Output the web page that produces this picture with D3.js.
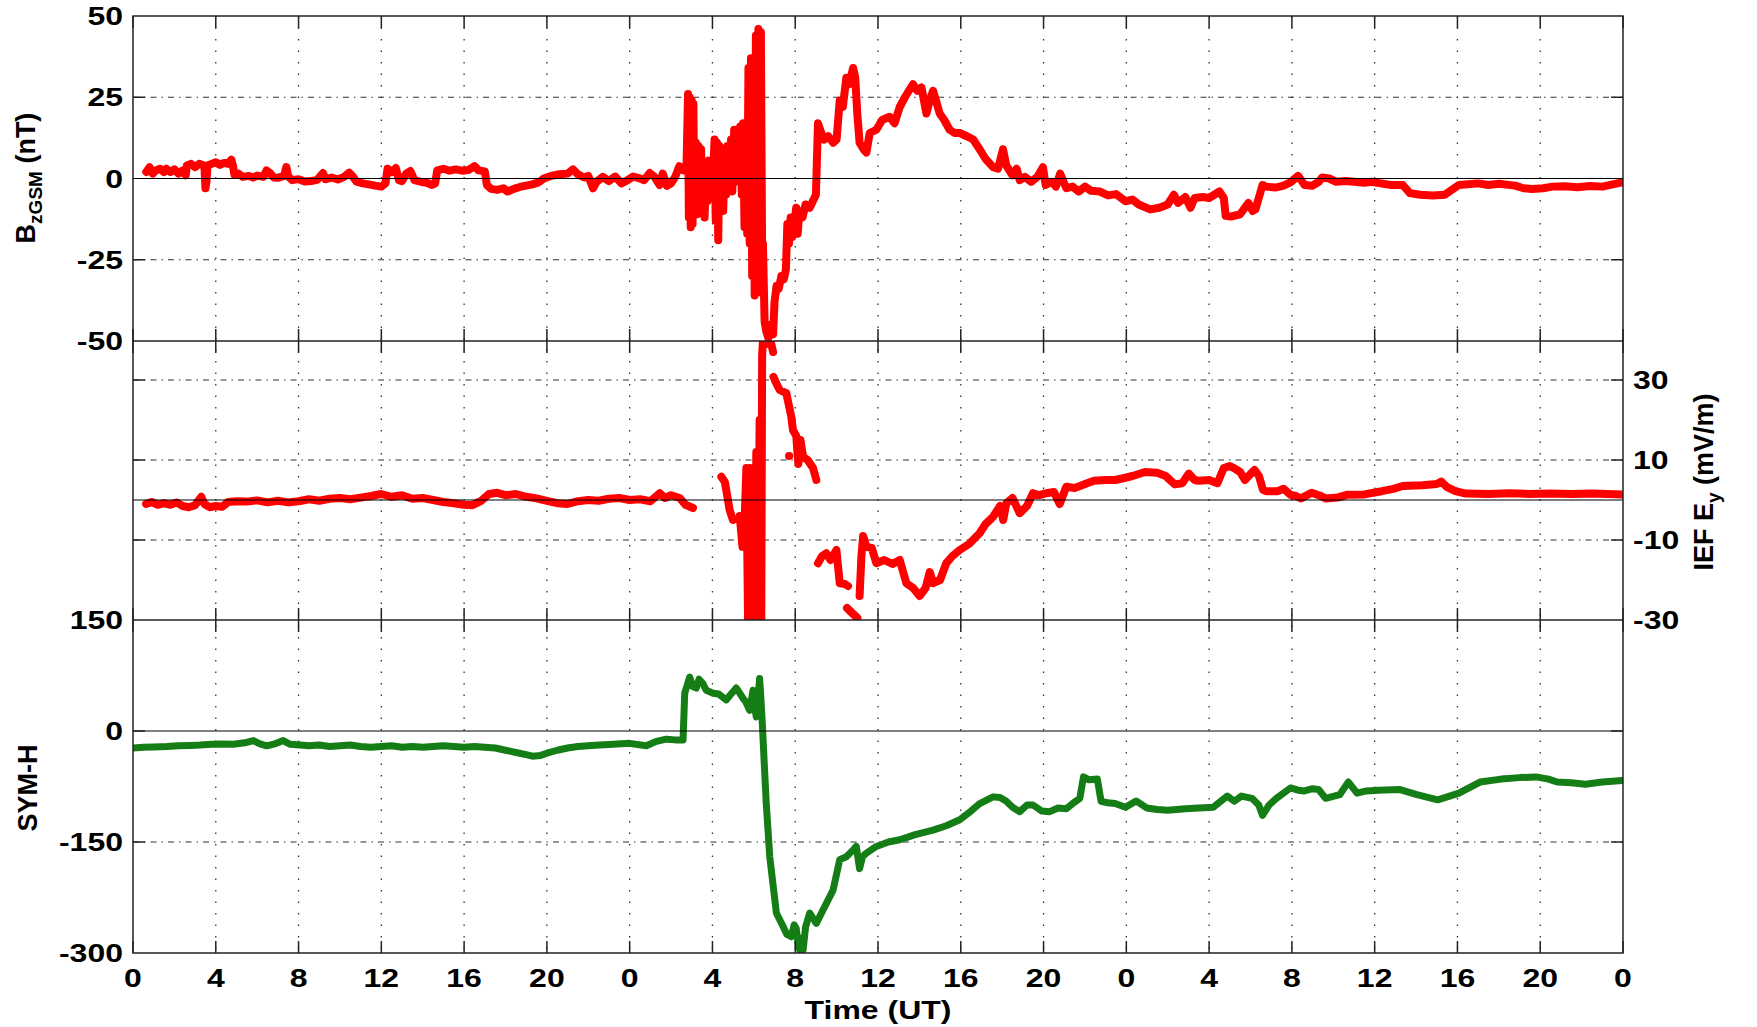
<!DOCTYPE html>
<html>
<head>
<meta charset="utf-8">
<script src="https://cdn.jsdelivr.net/npm/d3@7"></script>
<style>
  body { margin: 0; background: #fff; }
  text { font-family: "Liberation Sans", Arial, sans-serif; font-weight: bold; fill: #000; }
</style>
</head>
<body>
<svg id="grafico"></svg>
<script>
// dados: [hora desde o inicio, valor]
const bzSeries = [
  [0.64,2],[0.8,3.5],[0.95,1.5],[1.1,2.5],[1.3,3],[1.5,2],[1.61,3],[1.8,2],[2.0,2.8],[2.2,1.5],[2.4,2.5],[2.55,1],
  [2.6,4],[2.8,4.5],[3.0,3.5],[3.2,4.5],[3.45,4],[3.5,-3],[3.55,-1],[3.6,4],[3.8,4.5],[4.0,5],[4.2,4.2],[4.4,4.8],
  [4.6,4.5],[4.75,5.8],[4.83,4],[4.9,1.2],[5.1,1.5],[5.3,0.5],[5.6,0.8],[5.8,0.3],[6.0,0.9],[6.3,0.5],[6.45,2.5],
  [6.6,1.8],[6.8,0.3],[7.0,0.2],[7.3,0.8],[7.41,3.5],[7.5,0.6],[7.7,-0.5],[8.0,-0.2],[8.3,-0.9],[8.6,-0.8],[8.9,-0.4],
  [9.18,1.7],[9.3,-0.2],[9.6,0.3],[9.9,-0.3],[10.2,0.5],[10.45,1.8],[10.6,0.8],[10.8,-1.0],[11.1,-1.5],[11.4,-1.8],
  [11.7,-2.2],[12.0,-2.5],[12.2,-1.5],[12.3,3],[12.5,2],[12.7,3.2],[12.85,-0.5],[13.0,-0.8],[13.2,1.5],[13.4,2.3],
  [13.6,-0.5],[13.9,-1],[14.2,-1.3],[14.45,-2],[14.6,-1.5],[14.7,2.5],[15.0,3],[15.3,2.4],[15.6,2.8],[15.9,2.4],
  [16.2,2.6],[16.5,3.8],[16.7,2.5],[17.0,2.2],[17.1,-2],[17.3,-3.2],[17.6,-3.5],[17.9,-3],[18.1,-4],[18.4,-3.2],
  [18.7,-2.6],[19.0,-2.2],[19.3,-1.8],[19.6,-1.2],[19.85,0],[20.2,0.8],[20.6,1.3],[21.0,1.5],[21.26,2.8],[21.5,1.3],
  [21.8,0.3],[22.0,0.8],[22.23,-3],[22.4,-1],[22.7,0.5],[23.0,-0.8],[23.3,0.6],[23.6,-1.5],[23.9,-0.5],[24.16,0.6],
  [24.4,0.2],[24.7,-0.5],[24.97,1.7],[25.2,0.5],[25.45,-2],[25.6,1.5],[25.8,-2.3],[26.0,-1.5],[26.2,0.5],[26.4,3.8],
  [26.6,2.5],[26.75,4.5],[26.82,26],[26.86,-12],[26.9,25],[26.95,-15],[27.0,24],[27.04,-14],[27.08,23],[27.12,-8],
  [27.2,11],[27.26,-11],[27.32,10],[27.38,-5],[27.45,9],[27.5,-9],[27.56,5],[27.62,-12],[27.7,4],[27.76,-7],
  [27.82,5.5],[27.88,-2],[27.95,3],[28.0,-6],[28.1,12],[28.16,-13],[28.22,11],[28.28,-19],[28.34,10],[28.4,-8],
  [28.46,8],[28.52,-10],[28.6,9],[28.66,-5],[28.72,10],[28.8,-2],[28.9,12],[28.96,-4],[29.05,15],[29.1,-1],
  [29.18,15],[29.26,0],[29.34,16],[29.42,-5],[29.48,17],[29.55,-15],[29.62,14],[29.68,-17],[29.74,34],[29.8,-20],
  [29.86,37],[29.92,-30],[29.98,37],[30.04,-36],[30.1,44],[30.16,-30],[30.22,46],[30.28,-35],[30.34,45],[30.4,-22],
  [30.44,-20],[30.52,-44],[30.6,-47],[30.7,-49],[30.8,-45],[30.93,-48],[31.0,-38],[31.1,-33],[31.2,-34],[31.33,-30],
  [31.45,-31],[31.55,-28],[31.62,-14],[31.7,-20],[31.78,-12],[31.85,-18],[31.95,-14],[32.05,-9],[32.12,-17],[32.2,-10],
  [32.35,-12],[32.5,-8],[32.7,-9],[32.85,-7],[33.0,-5],[33.1,17],[33.26,14],[33.4,12],[33.6,13],[33.83,11],[34.0,12],
  [34.15,24],[34.3,22],[34.47,31],[34.6,29],[34.8,34],[34.9,31],[35.0,20],[35.11,11],[35.3,9],[35.44,8],[35.6,14],
  [35.92,15],[36.2,18],[36.56,19],[36.8,17],[37.05,22],[37.3,25],[37.69,29],[37.9,27],[38.1,28],[38.34,20],[38.5,24],
  [38.66,27],[38.8,24],[38.98,20],[39.2,18],[39.46,15],[39.7,14],[39.95,14],[40.3,13],[40.6,12],[40.91,9],[41.2,6],
  [41.56,3.5],[41.8,3],[42.04,9],[42.2,4],[42.5,1],[42.7,3],[42.85,-0.5],[43.1,0.5],[43.4,-1],[43.7,0.5],[43.97,3.5],
  [44.1,-2],[44.4,-1],[44.6,-2.5],[44.8,1.5],[45.1,-3],[45.4,-2.5],[45.7,-4],[46.0,-2.5],[46.3,-3.8],[46.71,-4],
  [47.12,-5.2],[47.5,-4.8],[47.96,-7],[48.3,-6.5],[48.6,-8],[49.15,-9.5],[49.6,-9],[50.0,-8],[50.3,-5],[50.5,-7.5],
  [50.85,-5.7],[51.1,-9],[51.3,-6],[51.69,-5.7],[52.0,-6],[52.5,-4],[52.71,-6],[52.8,-11.5],[53.05,-11.7],[53.5,-11],
  [53.9,-7.5],[54.1,-10],[54.24,-9.5],[54.4,-6],[54.58,-2],[54.75,-2.5],[55.2,-2.8],[55.6,-2.2],[55.93,-1.2],[56.3,0.8],
  [56.45,-0.5],[56.61,-2],[57.0,-2.2],[57.3,-1],[57.46,0.3],[57.8,0],[58.14,-1],[58.6,-0.8],[59.0,-1],[59.5,-1.3],
  [59.83,-1],[60.3,-1.5],[60.8,-2],[61.36,-2],[61.7,-4.5],[62.2,-5],[62.8,-5.2],[63.39,-5],[63.7,-3.6],[64.07,-2],
  [64.5,-1.8],[65.0,-1.5],[65.5,-2],[66.0,-1.6],[66.78,-2.2],[67.2,-3],[67.6,-3.2],[68.14,-3],[68.6,-2.5],[69.2,-2.4],
  [69.8,-2.7],[70.4,-2.3],[71.0,-2.5],[71.5,-1.8],[71.96,-1.2]
];

// null = falha nos dados
const eySeries = [
  [0.63,-1],[0.9,-0.5],[1.2,-1.2],[1.5,-0.8],[1.8,-1.2],[2.1,-0.6],[2.4,-1.5],[2.7,-1.8],[3.0,-1.3],[3.3,0.8],
  [3.45,-1],[3.7,-1.8],[4.0,-1.5],[4.3,-1.7],[4.6,-0.5],[5.0,-0.3],[5.5,-0.4],[6.0,-0.1],[6.5,-0.6],[7.0,-0.2],
  [7.5,-0.6],[8.0,-0.3],[8.5,0.2],[9.0,-0.2],[9.5,0.3],[10.0,0.5],[10.5,0.2],[11.0,0.6],[11.5,1.0],[12.0,1.5],
  [12.5,0.8],[13.0,1.2],[13.5,0.3],[14.0,0.5],[14.5,0],[15.0,-0.5],[15.5,-0.8],[16.0,-1.2],[16.4,-1.3],[16.8,-0.3],
  [17.2,1.5],[17.6,1.8],[18.0,1.2],[18.5,1.5],[19.0,0.8],[19.5,0.4],[20.0,-0.2],[20.5,-0.8],[21.0,-1],[21.5,-0.3],
  [22.0,0],[22.5,-0.2],[23.0,0.3],[23.5,0.5],[24.0,0],[24.5,0.2],[25.0,-0.3],[25.45,1.7],[25.7,0.5],[26.0,1.2],
  [26.42,0.5],[26.7,-1.2],[27.06,-2],[27.1,null],
  [28.43,5.8],[28.6,4.5],[28.75,0],[28.83,-2.5],[28.99,-5],[29.1,null],
  [29.32,-4],[29.45,-11.7],[29.55,-6],[29.64,8],[29.72,-30],[29.8,8],[29.88,-30],[29.96,8],[30.04,-30],[30.12,12],
  [30.2,-30],[30.28,20],[30.36,-30],[30.4,36],[30.44,40],[30.6,39],[30.8,40],[30.93,37],[30.94,null],
  [30.95,30.8],[31.1,29],[31.25,27.5],[31.57,26.7],[31.81,20.8],[31.89,17.5],[32.05,16],[32.15,9],[32.25,15],
  [32.38,10.8],[32.6,10],[32.86,8],[33.02,5],[33.05,null],
  [31.7,11],[31.71,11],[31.72,null],
  [33.1,-15.8],[33.3,-14],[33.5,-13.3],[33.7,-15],[33.99,-12.5],[34.15,-20.8],[34.4,-21],[34.55,-21.5],[34.56,null],
  [34.5,-27],[34.8,-28.5],[35.0,-29.5],[35.05,null],
  [35.11,-24],[35.2,-14],[35.28,-9],[35.44,-11.7],[35.7,-12],[35.92,-15.8],[36.3,-15],[36.7,-16],[37.05,-15],
  [37.37,-20.8],[37.7,-22],[38.01,-24],[38.3,-22],[38.5,-18],[38.66,-20.8],[39.0,-20],[39.3,-15.8],[39.6,-14],
  [39.95,-12.5],[40.4,-11],[40.91,-8.3],[41.2,-6],[41.56,-4.2],[41.9,-1.5],[42.05,-5],[42.2,-0.8],[42.5,0.5],
  [42.85,-3.3],[43.2,-1.5],[43.49,1.7],[43.8,1.2],[44.13,1.7],[44.5,2],[44.78,-1],[45.1,3.3],[45.5,3],[45.76,3.5],
  [46.1,4.2],[46.44,4.8],[47.0,5],[47.46,5],[47.9,5.5],[48.3,6],[48.9,7],[49.49,6.8],[49.9,6],[50.34,3.9],[50.7,4.2],
  [51.02,6.6],[51.3,5],[51.52,4.8],[52.0,5],[52.4,4.2],[52.71,8],[53.0,8.5],[53.22,7.9],[53.5,7],[53.73,5],[54.0,6.5],
  [54.2,7.5],[54.41,6],[54.6,2.6],[54.75,2.2],[55.3,2.2],[55.6,2.8],[55.93,1.3],[56.2,1],[56.44,0.4],[56.95,1.8],
  [57.3,1.2],[57.63,0.4],[58.2,0.6],[58.65,1.3],[59.5,1.4],[60.34,2.2],[60.9,2.8],[61.36,3.5],[62.3,3.7],[63.0,4],
  [63.22,4.6],[63.5,3.2],[63.9,2.2],[64.41,1.6],[65.5,1.5],[66.5,1.7],[67.5,1.5],[68.5,1.6],[69.5,1.5],[70.5,1.6],
  [71.96,1.4]
];

const symSeries = [
  [0,-23],[0.5,-22],[1.0,-21.5],[1.63,-21],[2.2,-20],[2.8,-19.5],[3.24,-19],[3.8,-18],[4.3,-17.5],[4.85,-18],
  [5.4,-16],[5.82,-13],[6.1,-17],[6.46,-20],[6.9,-17],[7.26,-13],[7.6,-18],[8.07,-19],[8.5,-20],[9.0,-19],[9.5,-21],
  [10.0,-20],[10.5,-19],[11.0,-21],[11.5,-22],[12.0,-21],[12.5,-20],[13.0,-22],[13.5,-21],[14.0,-22],[14.5,-21],
  [15.0,-20],[15.5,-21],[16.0,-22],[16.5,-21],[17.0,-22],[17.5,-23],[18.0,-26],[18.5,-29],[19.0,-32],[19.3,-34],
  [19.7,-33],[20.0,-30],[20.5,-26],[21.0,-23],[21.5,-21],[22.0,-20],[22.55,-19],[23.2,-18],[24.0,-16.7],[24.8,-20],
  [25.29,-14],[25.77,-11],[26.2,-12],[26.58,-12],[26.66,51],[26.9,73],[27.05,60],[27.22,58],[27.35,70],[27.54,64],
  [27.7,55],[28.03,51],[28.3,50],[28.67,42],[28.9,50],[29.15,58],[29.3,52],[29.48,44],[29.6,40],[29.8,28],[29.96,55],
  [30.05,30],[30.12,19],[30.2,45],[30.28,71],[30.35,40],[30.41,10],[30.52,-53],[30.6,-98],[30.77,-170],[31.09,-246],
  [31.41,-264],[31.6,-275],[31.81,-278],[31.95,-262],[32.05,-267],[32.15,-290],[32.22,-296],[32.3,-280],[32.38,-296],
  [32.5,-265],[32.7,-246],[33.02,-260],[33.34,-242],[33.83,-215],[34.15,-174],[34.47,-170],[34.79,-161],[34.95,-156],
  [35.11,-186],[35.25,-170],[35.44,-165],[35.92,-156],[36.5,-150],[37.05,-147],[37.8,-140],[38.66,-134],[39.3,-128],
  [39.95,-120],[40.5,-108],[40.91,-98],[41.56,-89],[41.9,-90],[42.2,-95],[42.5,-103],[42.85,-109],[43.2,-100],
  [43.49,-100],[43.9,-108],[44.3,-109],[44.7,-104],[45.1,-105],[45.5,-96],[45.75,-91],[45.93,-62],[46.2,-66],
  [46.6,-65],[46.78,-95],[47.1,-97],[47.46,-98],[47.96,-103],[48.47,-94.5],[48.98,-104],[49.5,-106],[50.0,-107],
  [50.85,-105],[51.5,-104],[52.2,-103],[52.88,-88],[53.22,-95],[53.56,-88],[54.07,-91],[54.4,-100],[54.58,-114],
  [54.9,-100],[55.25,-91],[55.93,-77],[56.3,-80],[56.61,-81],[57.0,-78],[57.29,-79],[57.63,-91],[58.31,-86],
  [58.73,-69],[59.15,-84],[59.6,-81],[60.17,-80],[61.19,-79],[62.04,-86],[63.05,-93],[64.07,-84],[65.09,-69],
  [66.11,-65],[67.0,-63],[67.8,-62],[68.4,-65],[68.82,-69],[69.5,-70],[70.18,-72],[71.0,-69],[71.96,-67]
];

// ticks
const timeTicks = d3.range(0, 73, 4);
const timeTickLabels = ["0","4","8","12","16","20","0","4","8","12","16","20","0","4","8","12","16","20","0"];
const bzTicks = [50, 25, 0, -25, -50];
const eyTicks = [30, 10, -10, -30];
const symTicks = [150, 0, -150, -300];

// dimensoes
const W = 1757, H = 1027;
const PAD = { left: 133, right: 1623 };
const paineis = {
  bz:  { top: 16,  bottom: 341 },
  ey:  { top: 341, bottom: 620 },
  sym: { top: 620, bottom: 953 }
};

const $svg = d3.select("#grafico").attr("width", W).attr("height", H);

const x = d3.scaleLinear().domain([0, 72]).range([PAD.left, PAD.right]);
const yBz = d3.scaleLinear().domain([-50, 50]).range([paineis.bz.bottom, paineis.bz.top]);
const yEy = d3.scaleLinear().domain([-30, 30]).range([paineis.ey.bottom, 380]);
const ySym = d3.scaleLinear().domain([-300, 150]).range([paineis.sym.bottom, paineis.sym.top]);

const TICK = 12;
const STRETCH = "scale(1.28,1)";

// clip paths
const $defs = $svg.append("defs");
Object.entries(paineis).forEach(([k, p]) => {
  $defs.append("clipPath").attr("id", "clip-" + k)
    .append("rect")
    .attr("x", PAD.left).attr("y", p.top)
    .attr("width", PAD.right - PAD.left).attr("height", p.bottom - p.top);
});

// grade vertical pontilhada
$svg.append("g")
  .selectAll("line")
  .data(timeTicks.slice(1, -1))
  .join("line")
  .attr("x1", d => x(d)).attr("x2", d => x(d))
  .attr("y1", paineis.bz.top).attr("y2", paineis.sym.bottom)
  .attr("stroke", "#333").attr("stroke-width", 1.3)
  .attr("stroke-dasharray", "1.5,10");

// grade horizontal traco-ponto
const gradeH = [
  ...[25, -25].map(v => yBz(v)),
  ...[30, 10, -10].map(v => yEy(v)),
  ySym(-150)
];
$svg.append("g")
  .selectAll("line")
  .data(gradeH)
  .join("line")
  .attr("x1", PAD.left).attr("x2", PAD.right)
  .attr("y1", d => d).attr("y2", d => d)
  .attr("stroke", "#333").attr("stroke-width", 1.2)
  .attr("stroke-dasharray", "6,5,1.5,5");

// series
const desenhaSerie = function(dados, escala, cor, clip, largura) {
  const linha = d3.line()
    .defined(d => d[1] !== null)
    .x(d => x(d[0]))
    .y(d => escala(d[1]));
  $svg.append("path")
    .datum(dados)
    .attr("clip-path", `url(#clip-${clip})`)
    .attr("d", linha)
    .attr("fill", "none")
    .attr("stroke", cor)
    .attr("stroke-width", largura)
    .attr("stroke-linejoin", "round")
    .attr("stroke-linecap", "round");
};

desenhaSerie(bzSeries, yBz, "#ff0000", "bz", 8);
desenhaSerie(eySeries, yEy, "#ff0000", "ey", 8);
desenhaSerie(symSeries, ySym, "#157d15", "sym", 7);

// linhas do zero
$svg.append("g")
  .selectAll("line")
  .data([yBz(0), yEy(0), ySym(0)])
  .join("line")
  .attr("x1", PAD.left).attr("x2", PAD.right)
  .attr("y1", d => d).attr("y2", d => d)
  .attr("stroke", "#000").attr("stroke-width", 1.2);

// molduras
const $eixos = $svg.append("g").attr("stroke", "#222").attr("stroke-width", 1.5).attr("fill", "none");
$eixos.append("rect")
  .attr("x", PAD.left).attr("y", paineis.bz.top)
  .attr("width", PAD.right - PAD.left).attr("height", paineis.sym.bottom - paineis.bz.top);
[paineis.bz.bottom, paineis.ey.bottom].forEach(yy => {
  $eixos.append("line").attr("x1", PAD.left).attr("x2", PAD.right).attr("y1", yy).attr("y2", yy);
});

// ticks do tempo, em cima e em baixo de cada painel
Object.values(paineis).forEach(p => {
  timeTicks.forEach(t => {
    $eixos.append("line").attr("x1", x(t)).attr("x2", x(t)).attr("y1", p.top).attr("y2", p.top + TICK);
    $eixos.append("line").attr("x1", x(t)).attr("x2", x(t)).attr("y1", p.bottom).attr("y2", p.bottom - TICK);
  });
});

// ticks verticais nos dois lados
const ticksY = [
  ...[25, -25].map(v => yBz(v)),
  ...[30, 10, -10].map(v => yEy(v)),
  ySym(-150), ySym(0)
];
ticksY.forEach(yy => {
  $eixos.append("line").attr("x1", PAD.left).attr("x2", PAD.left + TICK).attr("y1", yy).attr("y2", yy);
  $eixos.append("line").attr("x1", PAD.right).attr("x2", PAD.right - TICK).attr("y1", yy).attr("y2", yy);
});

// rotulos
const rotulo = function(px, py, txt, anchor) {
  $svg.append("text")
    .attr("transform", `translate(${px},${py}) ${STRETCH}`)
    .attr("text-anchor", anchor)
    .attr("dy", "0.36em")
    .attr("font-size", 25)
    .text(txt);
};

bzTicks.forEach(v => rotulo(123, yBz(v), v, "end"));
symTicks.forEach(v => rotulo(123, ySym(v), v, "end"));
eyTicks.forEach(v => rotulo(1633, yEy(v), v, "start"));
timeTicks.forEach((t, i) => rotulo(x(t), 978, timeTickLabels[i], "middle"));
rotulo(878, 1010, "Time (UT)", "middle");

// titulos dos eixos y
const $bzLabel = $svg.append("text")
  .attr("transform", "translate(35,178) rotate(-90)")
  .attr("text-anchor", "middle")
  .attr("font-size", 27);
$bzLabel.append("tspan").text("B");
$bzLabel.append("tspan").attr("font-size", 19).attr("dy", 7).text("zGSM");
$bzLabel.append("tspan").attr("dy", -7).text(" (nT)");

$svg.append("text")
  .attr("transform", "translate(37,788) rotate(-90)")
  .attr("text-anchor", "middle")
  .attr("font-size", 27)
  .text("SYM-H");

const $eyLabel = $svg.append("text")
  .attr("transform", "translate(1713,482) rotate(-90)")
  .attr("text-anchor", "middle")
  .attr("font-size", 27);
$eyLabel.append("tspan").text("IEF E");
$eyLabel.append("tspan").attr("font-size", 19).attr("dy", 7).text("y");
$eyLabel.append("tspan").attr("dy", -7).text(" (mV/m)");
</script>
</body>
</html>
